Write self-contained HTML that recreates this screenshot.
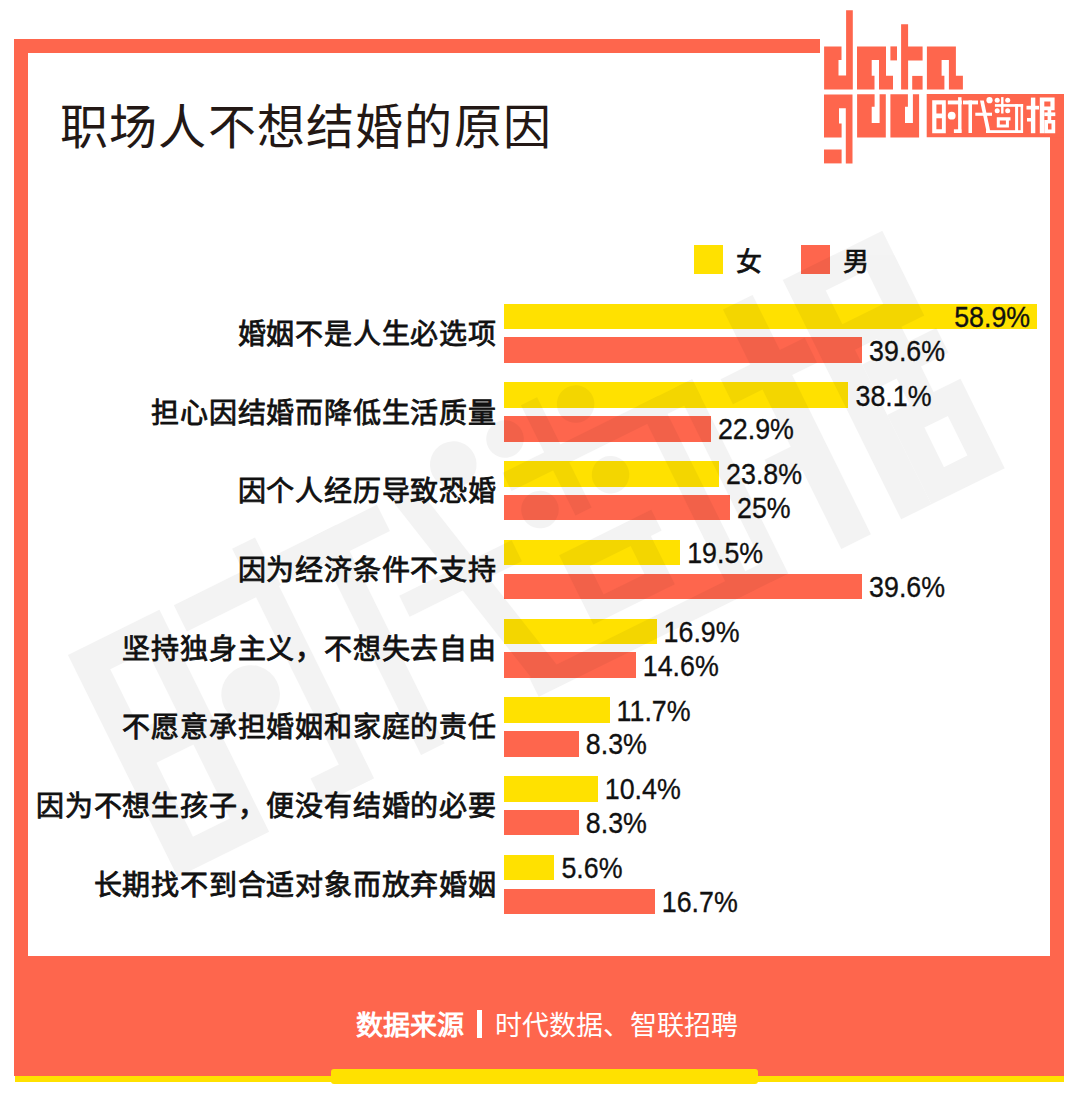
<!DOCTYPE html>
<html lang="zh-CN">
<head>
<meta charset="utf-8">
<style>
html,body{margin:0;padding:0;}
body{width:1080px;height:1094px;position:relative;overflow:hidden;background:#fff;font-family:"Liberation Sans",sans-serif;color:#111;}
.abs{position:absolute;}
.co{background:#fe664d;}
.ye{background:#ffe100;}
.title{left:60px;top:98px;font-size:48px;line-height:60px;font-weight:400;color:#231815;white-space:nowrap;letter-spacing:1.2px;}
.cat{right:583.2px;font-size:28px;line-height:34px;white-space:nowrap;text-align:right;color:#111;letter-spacing:0.8px;-webkit-text-stroke:0.8px #111;}
.bar{position:absolute;left:503.7px;height:25.5px;}
.val{position:absolute;font-size:26.8px;line-height:25.5px;height:25.5px;white-space:nowrap;color:#111;transform:scaleY(1.12);-webkit-text-stroke:0.3px #111;}
.leg{font-size:26px;line-height:30px;margin-top:1.8px;color:#111;-webkit-text-stroke:0.7px #111;}
.foot{top:1009px;color:#fff;font-size:27px;line-height:34px;white-space:nowrap;}
svg{position:absolute;left:0;top:0;}
</style>
</head>
<body>
<!-- frame -->
<div class="abs co" style="left:14px;top:39px;width:806px;height:14px;"></div>
<div class="abs co" style="left:14px;top:39px;width:14px;height:1037px;"></div>
<div class="abs co" style="left:1050px;top:94px;width:14px;height:982px;"></div>
<div class="abs co" style="left:14px;top:956px;width:1050px;height:120px;"></div>
<div class="abs ye" style="left:15px;top:1076px;width:1049px;height:6px;"></div>
<div class="abs ye" style="left:331px;top:1069px;width:427px;height:14.5px;border-radius:3px;"></div>

<svg width="1080" height="1094" viewBox="0 0 1080 1094"><g fill="#fe664d"><path d="M824.1,46.4H841.5V60H838.5V75.6H846.1V10.3H852.8V89.6H824.1Z"/><path d="M857.0,46.4H886.0V75.7H893.0V89.6H879.0V60H871.7V75.7H874.5V89.6H857.0Z"/><path d="M926.9,46.4H955.9V75.7H962.9V89.6H948.9V60H941.6V75.7H944.4V89.6H926.9Z"/><path d="M890.4,46.4H897V60.4H890.4Z"/><path d="M901.1,24.3H908.1V46.4H922.6V60.4H908.1V89.6H901.1Z"/><path d="M912.2,75.9H922.6V89.6H912.2Z"/><path d="M824,94.4H852.5V163.4H845.8V108.3H839V123.6H841.6V137.5H824Z"/><path d="M824,149.5H841.6V163.4H824Z"/><path d="M857.1,94.3H874.6V106.8H871.7V123H879.6V94.3H885.8000000000001V137.6H857.1Z"/><path d="M890.4,94.3H907.9V106.8H905.0V123H912.9V94.3H919.1V137.6H890.4Z"/><path d="M926.7,94H1064V137.3H926.7Z"/></g><g fill="#fff"><path d="M932.2,100.2H945.8V133.2H932.2Z M936.4,104.4V113.4H941.9V104.4Z M936.4,118.3V129.3H941.9V118.3Z" fill-rule="evenodd"/><rect x="947.8" y="100.5" width="14" height="3.9"/><rect x="958.1" y="97.2" width="3.4" height="35.8"/><rect x="953.9" y="129.3" width="7.5" height="3.7"/><circle cx="951.7" cy="115.7" r="3.9"/><rect x="963" y="100.5" width="15" height="3.9"/><rect x="968.5" y="100.5" width="3.5" height="32.5"/><rect x="975.3" y="112.7" width="16.7" height="3.1"/><path d="M980,100.5L983.8,100.5L990.2,131L986.4,131Z"/><circle cx="989.5" cy="100.2" r="3.1"/><circle cx="997.2" cy="100.2" r="2.5"/><circle cx="1007.7" cy="100.2" r="2.5"/><circle cx="997.2" cy="110.7" r="2.5"/><circle cx="1007.7" cy="110.7" r="2.5"/><rect x="1001.1" y="97.1" width="2.4" height="16.4"/><rect x="994.9" y="104.1" width="28.2" height="2.7"/><path d="M996.8,117.3H1010.5V120.4H1008.9V127.6H996.8Z M999.8,120.4V124.6H1005.9V120.4Z" fill-rule="evenodd"/><rect x="986" y="130.2" width="37" height="2.8"/><rect x="1015.1" y="104.1" width="3" height="28.9"/><rect x="1020.6" y="104.1" width="2.5" height="28.9"/><rect x="1030.9" y="97.6" width="4.4" height="35.6"/><rect x="1026.5" y="105.8" width="12.5" height="3.7"/><rect x="1027" y="118" width="8" height="3.5"/><path d="M1039.8,97.6H1054.6V110.2H1044.3V133.2H1039.8Z M1044.3,101.4V106.4H1050.4V101.4Z" fill-rule="evenodd"/><rect x="1044.3" y="112.4" width="11" height="3.7"/><rect x="1047.6" y="110" width="3.6" height="10"/><path d="M1044.3,119.9H1055.2V133.2H1044.3Z M1048,123.6V129.5H1051.5V123.6Z" fill-rule="evenodd"/></g></svg>

<div class="abs title">职场人不想结婚的原因</div>

<!-- legend -->
<div class="abs ye" style="left:694px;top:245px;width:29px;height:29px;"></div>
<div class="abs leg" style="left:736px;top:245px;">女</div>
<div class="abs co" style="left:801px;top:245px;width:29px;height:29px;"></div>
<div class="abs leg" style="left:843px;top:245px;">男</div>

<div class="bar ye" style="top:303.6px;width:533.0px;"></div>
<div class="bar co" style="top:337.4px;width:358.4px;"></div>
<div class="val" style="top:304.9px;right:49.8px;">58.9%</div>
<div class="val" style="top:338.7px;left:869.1px;">39.6%</div>
<div class="abs cat" style="top:317.8px;">婚姻不是人生必选项</div>
<div class="bar ye" style="top:382.3px;width:344.8px;"></div>
<div class="bar co" style="top:416.1px;width:207.2px;"></div>
<div class="val" style="top:383.6px;left:855.5px;">38.1%</div>
<div class="val" style="top:417.4px;left:717.9px;">22.9%</div>
<div class="abs cat" style="top:396.5px;">担心因结婚而降低生活质量</div>
<div class="bar ye" style="top:461.1px;width:215.4px;"></div>
<div class="bar co" style="top:494.9px;width:226.3px;"></div>
<div class="val" style="top:462.4px;left:726.1px;">23.8%</div>
<div class="val" style="top:496.2px;left:737.0px;">25%</div>
<div class="abs cat" style="top:475.2px;">因个人经历导致恐婚</div>
<div class="bar ye" style="top:539.8px;width:176.5px;"></div>
<div class="bar co" style="top:573.6px;width:358.4px;"></div>
<div class="val" style="top:541.1px;left:687.2px;">19.5%</div>
<div class="val" style="top:574.9px;left:869.1px;">39.6%</div>
<div class="abs cat" style="top:553.9px;">因为经济条件不支持</div>
<div class="bar ye" style="top:618.5px;width:152.9px;"></div>
<div class="bar co" style="top:652.3px;width:132.1px;"></div>
<div class="val" style="top:619.8px;left:663.6px;">16.9%</div>
<div class="val" style="top:653.6px;left:642.8px;">14.6%</div>
<div class="abs cat" style="top:632.7px;">坚持独身主义，不想失去自由</div>
<div class="bar ye" style="top:697.2px;width:105.9px;"></div>
<div class="bar co" style="top:731.0px;width:75.1px;"></div>
<div class="val" style="top:698.5px;left:616.6px;">11.7%</div>
<div class="val" style="top:732.3px;left:585.8px;">8.3%</div>
<div class="abs cat" style="top:711.4px;">不愿意承担婚姻和家庭的责任</div>
<div class="bar ye" style="top:776.0px;width:94.1px;"></div>
<div class="bar co" style="top:809.8px;width:75.1px;"></div>
<div class="val" style="top:777.3px;left:604.8px;">10.4%</div>
<div class="val" style="top:811.1px;left:585.8px;">8.3%</div>
<div class="abs cat" style="top:790.1px;">因为不想生孩子，便没有结婚的必要</div>
<div class="bar ye" style="top:854.7px;width:50.7px;"></div>
<div class="bar co" style="top:888.5px;width:151.1px;"></div>
<div class="val" style="top:856.0px;left:561.4px;">5.6%</div>
<div class="val" style="top:889.8px;left:661.8px;">16.7%</div>
<div class="abs cat" style="top:868.9px;">长期找不到合适对象而放弃婚姻</div>
<svg width="1080" height="1094" viewBox="0 0 1080 1094" style="pointer-events:none"><defs><clipPath id="pc"><rect x="28" y="53" width="1022" height="903"/></clipPath></defs><g clip-path="url(#pc)"><g fill="#000" opacity="0.042" transform="translate(68,655) rotate(-26.3) scale(7.5) translate(-932.2,-100.2)"><path d="M932.2,100.2H945.8V133.2H932.2Z M936.4,104.4V113.4H941.9V104.4Z M936.4,118.3V129.3H941.9V118.3Z" fill-rule="evenodd"/><rect x="947.8" y="100.5" width="14" height="3.9"/><rect x="958.1" y="97.2" width="3.4" height="35.8"/><rect x="953.9" y="129.3" width="7.5" height="3.7"/><circle cx="951.7" cy="115.7" r="3.9"/><rect x="963" y="100.5" width="15" height="3.9"/><rect x="968.5" y="100.5" width="3.5" height="32.5"/><rect x="975.3" y="112.7" width="16.7" height="3.1"/><path d="M980,100.5L983.8,100.5L990.2,131L986.4,131Z"/><circle cx="989.5" cy="100.2" r="3.1"/><circle cx="997.2" cy="100.2" r="2.5"/><circle cx="1007.7" cy="100.2" r="2.5"/><circle cx="997.2" cy="110.7" r="2.5"/><circle cx="1007.7" cy="110.7" r="2.5"/><rect x="1001.1" y="97.1" width="2.4" height="16.4"/><rect x="994.9" y="104.1" width="28.2" height="2.7"/><path d="M996.8,117.3H1010.5V120.4H1008.9V127.6H996.8Z M999.8,120.4V124.6H1005.9V120.4Z" fill-rule="evenodd"/><rect x="986" y="130.2" width="37" height="2.8"/><rect x="1015.1" y="104.1" width="3" height="28.9"/><rect x="1020.6" y="104.1" width="2.5" height="28.9"/><rect x="1030.9" y="97.6" width="4.4" height="35.6"/><rect x="1026.5" y="105.8" width="12.5" height="3.7"/><rect x="1027" y="118" width="8" height="3.5"/><path d="M1039.8,97.6H1054.6V110.2H1044.3V133.2H1039.8Z M1044.3,101.4V106.4H1050.4V101.4Z" fill-rule="evenodd"/><rect x="1044.3" y="112.4" width="11" height="3.7"/><rect x="1047.6" y="110" width="3.6" height="10"/><path d="M1044.3,119.9H1055.2V133.2H1044.3Z M1048,123.6V129.5H1051.5V123.6Z" fill-rule="evenodd"/></g></g></svg>

<div class="abs foot" style="left:356px;font-weight:700;">数据来源</div>
<div class="abs" style="left:477px;top:1010px;width:5px;height:28px;background:#fff;"></div>
<div class="abs foot" style="left:495px;">时代数据、智联招聘</div>

</body>
</html>
